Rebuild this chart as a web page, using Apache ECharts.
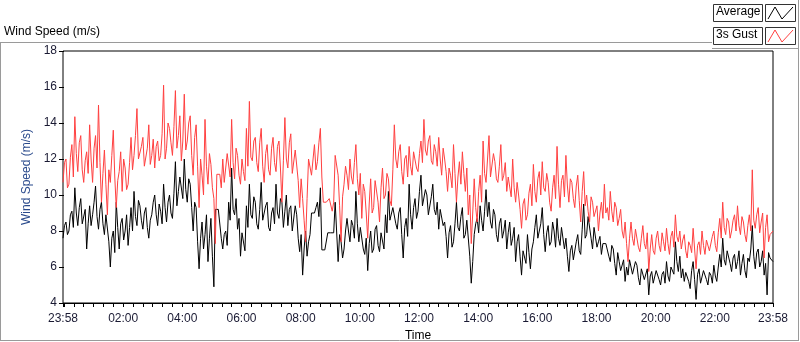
<!DOCTYPE html>
<html>
<head>
<meta charset="utf-8">
<script src="https://cdn.jsdelivr.net/npm/echarts@6/dist/echarts.min.js"></script>
<style>
  html, body { margin: 0; padding: 0; background: #fff; }
  #chart { width: 800px; height: 342px; }
</style>
</head>
<body>
<div id="chart"></div>
<script>
// time axis in minutes since 00:00, one sample every 3 minutes from 23:58 to 23:58
var startMin = -2;
var stepMin = 3;

// 3s gust (m/s)
var gust = [
  10.7,11.8, 12.0,10.4, 10.6,12.1, 12.8,11.0, 14.35,12.3, 11.3,12.9, 13.3,11.4, 10.7,11.9,
  12.4,11.2, 13.9,12.0, 10.7,12.6, 13.3,11.5, 15.0,11.8, 9.6,11.2, 12.5,10.6, 8.9,11.4,
  10.7,12.2, 13.6,11.0, 9.3,10.8, 11.3,12.4, 10.2,12.0, 11.5,10.3, 10.6,11.8, 13.2,11.4,
  12.2,13.3, 14.8,12.0, 11.9,12.7, 13.2,11.6, 11.5,12.6, 13.9,11.7, 12.2,13.1, 11.5,12.7,
  13.0,11.9, 12.2,13.4, 16.1,12.0, 12.6,14.0, 13.7,12.9, 12.2,13.8, 15.8,12.6, 13.3,14.4,
  11.9,13.0, 15.6,12.5, 13.0,14.0, 14.4,12.2, 11.1,13.2, 13.9,11.6, 9.3,12.0, 11.1,10.0,
  14.2,11.6, 10.6,12.3, 11.7,10.4, 9.8,7.3, 11.15,11.15, 11.15,10.4, 12.0,10.7, 10.6,12.3,
  12.4,11.0, 14.2,11.8, 10.9,12.6, 12.2,11.1, 10.6,12.0, 11.3,10.8, 13.7,11.6, 15.2,12.1,
  11.9,13.0, 13.2,11.8, 11.3,12.9, 13.7,11.6, 10.7,12.3, 12.8,11.4, 11.1,12.6, 13.2,11.8,
  11.3,12.7, 13.0,11.5, 9.6,11.9, 14.3,12.0, 11.5,12.9, 13.4,11.2, 11.1,12.5, 12.6,10.8,
  9.3,10.9, 9.8,8.6, 7.4,9.8, 12.0,12.0, 11.1,11.1, 12.8,11.4, 11.85,12.9, 13.7,11.0,
  9.6,9.6, 9.6,9.6, 9.8,9.8, 9.1,9.6, 12.2,12.2, 11.1,9.4, 7.4,9.9, 10.6,11.6,
  11.1,10.3, 12.0,11.0, 10.6,11.8, 12.8,10.9, 10.0,11.2, 8.7,10.6, 10.2,9.0, 7.6,9.5,
  10.9,9.0, 9.3,10.8, 10.7,9.6, 8.5,10.4, 11.5,9.8, 10.0,11.2, 10.9,9.7, 9.4,11.4,
  13.9,12.0, 11.5,12.4, 12.8,11.3, 10.6,12.0, 12.2,11.0, 12.7,11.6, 11.1,12.4, 12.4,11.5,
  11.3,12.3, 13.0,11.8, 14.2,12.5, 12.2,13.0, 13.3,11.9, 11.7,12.8, 12.4,11.6, 13.2,12.0,
  11.1,12.6, 12.0,11.3, 10.2,11.5, 11.1,10.4, 12.8,11.2, 9.6,11.0, 11.85,10.6, 12.4,11.2,
  10.2,11.5, 8.9,10.0, 7.3,9.0, 10.9,9.3, 8.5,10.2, 11.1,9.6, 13.0,11.2, 10.7,12.0,
  13.3,11.0, 11.1,12.3, 11.85,10.9, 10.7,11.6, 12.8,10.8, 11.1,11.8, 10.2,11.0, 10.9,9.9,
  12.0,10.4, 9.6,10.7, 10.0,9.2, 8.15,9.5, 9.8,8.6, 8.9,10.1, 10.6,9.4, 11.7,10.2,
  9.6,10.9, 11.3,10.0, 11.85,10.4, 10.2,11.2, 10.7,9.6, 9.1,10.4, 11.1,9.8, 12.7,10.6,
  9.3,10.8, 11.1,9.9, 12.2,10.5, 9.6,10.9, 10.7,9.8, 9.3,10.5, 11.1,9.7, 8.5,10.2,
  11.3,9.4, 10.0,9.1, 8.5,9.9, 9.6,8.8, 8.7,9.4, 8.0,9.0, 9.6,8.7, 10.6,9.0,
  9.3,8.6, 10.2,9.1, 8.5,9.6, 9.3,8.3, 8.7,9.2, 8.0,7.6, 8.5,7.3, 6.3,7.6,
  8.5,7.6, 7.2,8.1, 8.0,7.1, 6.85,7.6, 8.3,7.3, 7.0,7.9, 5.75,7.0, 7.8,6.9,
  6.7,7.6, 8.0,7.2, 6.85,7.9, 7.4,6.9, 8.15,7.3, 6.7,7.7, 8.0,7.1, 8.9,7.7,
  7.4,8.0, 7.0,7.5, 7.8,6.9, 6.5,7.4, 7.2,6.8, 8.15,7.0, 5.9,7.2, 7.4,6.7,
  8.0,7.2, 6.7,7.5, 7.6,6.9, 7.0,7.7, 8.0,7.2, 6.85,7.9, 8.7,7.6, 9.6,8.2,
  7.8,8.7, 8.5,7.6, 8.0,8.6, 8.9,8.0, 9.4,8.3, 7.8,8.8, 8.5,7.8, 7.4,8.3,
  8.9,8.0, 11.4,8.6, 8.15,8.9, 9.3,7.9, 8.5,9.0, 6.5,8.2, 8.9,7.4, 7.8,7.8,
  8.0
];

// average (m/s)
var avg = [
  7.6,8.3, 8.5,7.8, 8.0,8.9, 9.1,8.2, 10.4,9.0, 8.3,9.3, 9.8,8.4, 8.5,9.2,
  7.0,8.4, 9.4,8.3, 8.9,9.6, 10.5,8.8, 8.1,9.2, 9.6,8.4, 7.8,8.9, 8.9,7.4,
  6.0,7.6, 8.0,6.8, 9.6,8.2, 7.0,8.4, 8.7,7.5, 8.0,8.9, 7.2,8.2, 9.3,8.0,
  10.2,8.8, 8.3,9.7, 9.4,8.6, 8.1,9.0, 9.3,8.2, 7.6,8.6, 8.9,9.6, 10.0,8.9,
  8.3,9.5, 9.1,8.4, 10.6,9.3, 8.5,9.6, 10.0,9.0, 8.7,10.1, 11.85,9.4, 10.2,11.0,
  11.1,9.8, 12.0,10.3, 9.6,10.9, 10.6,9.3, 8.0,9.6, 9.3,7.4, 5.9,7.6, 8.5,7.0,
  7.8,8.9, 6.3,7.6, 8.7,6.6, 4.9,9.2, 9.2,9.2, 9.2,7.6, 7.0,7.8, 8.0,7.2,
  9.6,8.6, 11.5,9.2, 8.9,9.8, 8.1,8.7, 6.6,7.9, 7.8,6.9, 9.4,8.2, 10.6,8.9,
  8.7,9.9, 9.6,8.4, 8.1,9.2, 10.7,8.6, 8.5,9.4, 9.6,8.2, 8.0,9.0, 9.3,8.4,
  10.6,9.0, 8.7,9.8, 9.6,8.2, 9.1,10.0, 8.3,9.2, 9.4,8.0, 8.1,9.4, 8.9,7.6,
  6.85,7.8, 5.55,7.0, 8.0,6.6, 7.4,7.8, 9.0,9.0, 9.0,9.3, 9.6,8.8, 10.4,6.95,
  6.95,6.95, 6.95,7.9, 7.9,7.9, 7.9,7.9, 9.6,9.6, 6.3,7.8, 7.4,6.5, 7.0,8.0,
  8.7,8.0, 7.4,8.6, 8.3,7.6, 10.2,8.4, 7.4,8.2, 8.1,7.0, 6.7,7.6, 5.8,7.3,
  8.0,6.8, 7.0,8.1, 8.3,7.2, 6.85,7.9, 7.8,7.0, 8.9,7.9, 10.2,8.6, 8.5,9.3,
  9.4,8.4, 8.1,9.0, 9.3,7.8, 6.5,8.2, 8.7,7.7, 10.6,8.9, 8.1,9.3, 9.8,8.7,
  9.1,10.2, 11.1,9.4, 9.3,10.3, 10.0,8.9, 8.9,9.9, 10.6,9.2, 8.9,9.6, 8.1,9.2,
  9.3,8.3, 8.5,7.7, 6.5,7.9, 8.3,7.1, 7.4,8.4, 9.6,8.2, 8.0,8.8, 9.3,7.6,
  7.8,8.6, 8.5,6.6, 5.1,6.3, 7.8,8.4, 8.7,7.9, 9.4,8.6, 8.0,9.1, 10.3,8.8,
  9.6,8.5, 8.15,9.2, 8.9,7.8, 7.4,8.4, 8.7,7.6, 8.0,8.6, 7.0,7.9, 8.5,7.2,
  7.6,8.2, 6.3,7.4, 7.8,6.6, 5.55,6.9, 7.0,6.2, 7.8,6.8, 5.9,7.0, 7.4,8.2,
  8.9,7.6, 7.6,8.4, 9.3,7.8, 6.85,7.9, 8.3,7.2, 7.4,8.5, 8.0,7.1, 8.7,7.6,
  7.2,8.2, 8.3,7.0, 7.6,6.6, 5.75,6.9, 7.2,6.4, 6.3,7.4, 7.8,6.9, 6.7,8.1,
  9.5,7.6, 7.8,8.8, 8.7,7.6, 7.0,8.2, 8.15,7.1, 7.4,7.7, 6.7,7.3, 7.4,7.3,
  7.2,6.6, 6.3,7.2, 7.0,6.2, 5.55,6.8, 6.3,5.8, 5.9,6.4, 5.2,6.0, 5.55,6.4,
  6.3,5.6, 5.55,6.3, 6.1,5.4, 5.0,5.9, 5.9,5.3, 5.4,5.9, 4.45,5.5, 5.75,5.1,
  5.2,5.8, 5.9,5.3, 5.0,5.6, 5.75,5.1, 6.3,5.5, 5.2,6.0, 6.1,5.6, 7.4,6.3,
  5.75,6.6, 5.4,5.9, 5.2,5.7, 5.75,5.2, 4.8,5.8, 6.3,5.3, 4.2,5.6, 5.9,5.1,
  5.2,5.8, 5.9,5.3, 5.0,5.7, 5.55,5.1, 6.1,5.5, 5.2,6.0, 6.7,6.0, 7.6,6.4,
  6.1,6.9, 7.0,6.2, 5.75,6.5, 6.7,5.9, 6.3,6.9, 5.55,6.2, 6.7,5.8, 5.4,6.5,
  6.3,7.0, 8.3,6.6, 5.9,6.8, 7.0,6.0, 6.3,6.9, 5.55,6.2, 4.45,6.8, 6.5,6.4,
  6.3
];

// x tick label positions (minutes) and y ticks
var xLabelMins = [-2, 120, 240, 360, 480, 600, 720, 840, 960, 1080, 1200, 1320, 1438];
var yTicks = [4, 6, 8, 10, 12, 14, 16, 18];

function toPairs(arr) {
  return arr.map(function (v, i) { return [startMin + i * stepMin, v]; });
}

function fmtTime(v) {
  var m = ((Math.round(v) % 1440) + 1440) % 1440;
  var hh = Math.floor(m / 60), mm = m % 60;
  return (hh < 10 ? '0' : '') + hh + ':' + (mm < 10 ? '0' : '') + mm;
}

var minorTicks = [-2];
for (var t = 0; t <= 1438; t += 20) minorTicks.push(t);
minorTicks.push(1438);

var font = 'Liberation Sans';
var myChart = echarts.init(document.getElementById('chart'), null, { renderer: 'canvas' });

var option = {
  animation: false,
  backgroundColor: '#fff',
  grid: {
    left: 63, right: 27, top: 51, bottom: 39,
    outerBoundsMode: 'none', containLabel: false,
    show: true, borderColor: '#000', borderWidth: 1, backgroundColor: '#fff'
  },
  xAxis: {
    type: 'value',
    min: -2, max: 1438,
    name: 'Time',
    nameLocation: 'middle',
    nameGap: 27,
    nameTextStyle: { color: '#000', fontSize: 12, fontFamily: font },
    axisLine: { lineStyle: { color: '#000', width: 1 } },
    axisTick: { show: true, customValues: minorTicks, length: 4, inside: false, lineStyle: { color: '#000' } },
    axisLabel: {
      customValues: xLabelMins,
      formatter: fmtTime,
      color: '#1a1a33', fontSize: 12, fontFamily: font, margin: 10
    },
    splitLine: { show: false }
  },
  yAxis: {
    type: 'value',
    min: 4, max: 18, interval: 2,
    name: 'Wind Speed (m/s)',
    nameLocation: 'middle',
    nameGap: 30,
    nameTextStyle: { color: '#2a4a8c', fontSize: 12, fontFamily: font },
    axisLine: { show: false },  // grid border draws the left edge
    axisTick: { show: true, length: 5, lineStyle: { color: '#000' } },
    axisLabel: { color: '#1a1a33', fontSize: 12, fontFamily: font, margin: 6 },
    splitLine: { show: false }
  },
  series: [
    {
      name: 'Average', type: 'line', data: toPairs(avg),
      showSymbol: false, lineStyle: { color: '#000', width: 1 }, z: 2
    },
    {
      name: '3s Gust', type: 'line', data: toPairs(gust),
      showSymbol: false, lineStyle: { color: '#ff4040', width: 1 }, z: 3
    }
  ],
  graphic: [
    // panel frame
    { type: 'line', shape: { x1: 0, y1: 42.5, x2: 712, y2: 42.5 }, style: { stroke: '#9a9a9a', lineWidth: 1 } },
    { type: 'line', shape: { x1: 712, y1: 48.5, x2: 798, y2: 48.5 }, style: { stroke: '#9a9a9a', lineWidth: 1 } },
    { type: 'line', shape: { x1: 0.5, y1: 42, x2: 0.5, y2: 341 }, style: { stroke: '#9a9a9a', lineWidth: 1 } },
    { type: 'line', shape: { x1: 798.5, y1: 0, x2: 798.5, y2: 341 }, style: { stroke: '#9a9a9a', lineWidth: 1 } },
    { type: 'line', shape: { x1: 0, y1: 340.5, x2: 799, y2: 340.5 }, style: { stroke: '#9a9a9a', lineWidth: 1 } },
    // title
    { type: 'text', left: 4, top: 26, style: { text: 'Wind Speed (m/s)', fill: '#000', font: '12px ' + font } },
    // legend boxes
    { type: 'rect', shape: { x: 713.5, y: 4.5, width: 49, height: 17 }, style: { fill: '#fff', stroke: '#333', lineWidth: 1 } },
    { type: 'text', left: 716, top: 6, style: { text: 'Average', fill: '#000', font: '12px ' + font } },
    { type: 'rect', shape: { x: 765.5, y: 4.5, width: 30, height: 17 }, style: { fill: '#fff', stroke: '#333', lineWidth: 1 } },
    { type: 'polyline', shape: { points: [[768, 19], [775, 7], [782, 19], [793, 7]] }, style: { stroke: '#000', lineWidth: 1, fill: null } },
    { type: 'rect', shape: { x: 713.5, y: 27.5, width: 49, height: 17 }, style: { fill: '#fff', stroke: '#333', lineWidth: 1 } },
    { type: 'text', left: 716, top: 29, style: { text: '3s Gust', fill: '#000', font: '12px ' + font } },
    { type: 'rect', shape: { x: 765.5, y: 27.5, width: 30, height: 17 }, style: { fill: '#fff', stroke: '#333', lineWidth: 1 } },
    { type: 'polyline', shape: { points: [[768, 42], [775, 30], [782, 42], [793, 30]] }, style: { stroke: '#ff4040', lineWidth: 1, fill: null } }
  ]
};

myChart.setOption(option);
</script>
</body>
</html>
